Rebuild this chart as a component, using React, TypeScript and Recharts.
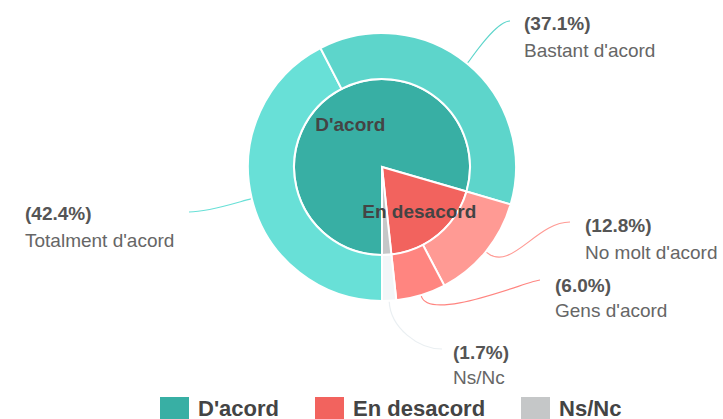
import { PieChart, Pie, Cell, Legend } from 'recharts';

const innerNames = ["D'acord", 'En desacord', 'Ns/Nc'];
const innerValues = [79.5, 18.8, 1.7];
const innerColors = ['#38afa4', '#f2635e', '#c5c7c8'];

const outerNames = ["Totalment d'acord", "Bastant d'acord", "No molt d'acord", "Gens d'acord", 'Ns/Nc'];
const outerValues = [42.4, 37.1, 12.8, 6.0, 1.7];
const outerColors = ['#68e0d7', '#5dd5cb', '#ff9a94', '#ff8580', '#f3f6f8'];
const leaderColors = ['#68e0d7', '#5dd5cb', '#ff9a94', '#ff8580', '#eaeff2'];

const innerData = innerNames.map((name, i) => ({ name, value: innerValues[i] }));
const outerData = outerNames.map((name, i) => ({ name, value: outerValues[i] }));

// where each outer label sits, relative to the pie centre; k1/k2 shape the leader curve
const labelSpots = [
  { end: [-193, 45], text: -357, pctY: 46, nameY: 73, k1: 12, k2: 20 },
  { end: [128, -146], text: 142, pctY: -144, nameY: -117, k1: 8, k2: 14 },
  { end: [188, 55], text: 203, pctY: 58, nameY: 85, k1: 32, k2: 34 },
  { end: [158, 113], text: 173, pctY: 118, nameY: 143, k1: 28, k2: 10 },
  { end: [60, 182], text: 71, pctY: 185, nameY: 210, k1: 26, k2: 24 },
];
const innerLabelRadius = [0.6, 0.66];

const FONT = '"Liberation Sans", Arial, Helvetica, sans-serif';
const RAD = Math.PI / 180;
const CX = 382;
const CY = 167;

function OuterLabel(props: any) {
  const { cx, cy, midAngle, outerRadius, index, value } = props;
  const spot = labelSpots[index];
  const dx = Math.cos(-midAngle * RAD);
  const dy = Math.sin(-midAngle * RAD);
  const x0 = cx + (outerRadius + 1) * dx;
  const y0 = cy + (outerRadius + 1) * dy;
  const x2 = cx + spot.end[0];
  const y2 = cy + spot.end[1];
  const side = spot.end[0] >= 0 ? 1 : -1;
  const c1x = x0 + dx * spot.k1;
  const c1y = y0 + dy * spot.k1;
  const c2x = x2 - side * spot.k2;
  const d = `M${x0},${y0} C${c1x},${c1y} ${c2x},${y2} ${x2},${y2}`;
  return (
    <g>
      <path d={d} fill="none" stroke={leaderColors[index]} strokeWidth={1.2} />
      <text
        x={cx + spot.text}
        y={cy + spot.pctY}
        dominantBaseline="central"
        fill="#555"
        fontSize={19}
        fontWeight="bold"
        fontFamily={FONT}
      >
        {`(${Number(value).toFixed(1)}%)`}
      </text>
      <text
        x={cx + spot.text}
        y={cy + spot.nameY}
        dominantBaseline="central"
        fill="#666"
        fontSize={19}
        fontFamily={FONT}
      >
        {outerNames[index]}
      </text>
    </g>
  );
}

function InnerLabel(props: any) {
  const { cx, cy, midAngle, outerRadius, index } = props;
  if (index > 1) return null;
  const r = outerRadius * innerLabelRadius[index];
  const x = cx + r * Math.cos(-midAngle * RAD);
  const y = cy + r * Math.sin(-midAngle * RAD);
  return (
    <text
      x={x}
      y={y}
      textAnchor="middle"
      dominantBaseline="central"
      fill="#444"
      fontSize={19}
      fontWeight="bold"
      fontFamily={FONT}
    >
      {innerNames[index]}
    </text>
  );
}

function LegendBox() {
  return (
    <div style={{ display: 'flex', gap: 36, paddingLeft: 160, fontFamily: FONT }}>
      {innerNames.map((n, i) => (
        <div key={n} style={{ display: 'flex', alignItems: 'flex-start', gap: 9 }}>
          <span style={{ width: 29, height: 22, background: innerColors[i], display: 'inline-block' }} />
          <span style={{ fontSize: 22, fontWeight: 'bold', color: '#444', lineHeight: '22px', marginTop: 1 }}>{n}</span>
        </div>
      ))}
    </div>
  );
}

export default function App() {
  return (
    <div style={{ position: 'absolute', left: 0, top: 0, width: 723, height: 419, background: '#fff', overflow: 'hidden' }}>
      <PieChart width={723} height={419} margin={{ top: 0, right: 0, bottom: 0, left: 0 }}>
        <Pie
          data={innerData}
          dataKey="value"
          cx={CX}
          cy={CY}
          outerRadius={88}
          startAngle={-90}
          endAngle={-450}
          stroke="#fff"
          strokeWidth={2}
          label={InnerLabel}
          labelLine={false}
          isAnimationActive={false}
        >
          {innerData.map((d, i) => (
            <Cell key={d.name} fill={innerColors[i]} />
          ))}
        </Pie>
        <Pie
          data={outerData}
          dataKey="value"
          cx={CX}
          cy={CY}
          innerRadius={88}
          outerRadius={134}
          startAngle={-90}
          endAngle={-450}
          stroke="#fff"
          strokeWidth={2}
          label={OuterLabel}
          labelLine={false}
          isAnimationActive={false}
        >
          {outerData.map((d, i) => (
            <Cell key={d.name} fill={outerColors[i]} />
          ))}
        </Pie>
        <Legend content={() => <LegendBox />} wrapperStyle={{ left: 0, top: 397, width: 723 }} />
      </PieChart>
    </div>
  );
}
